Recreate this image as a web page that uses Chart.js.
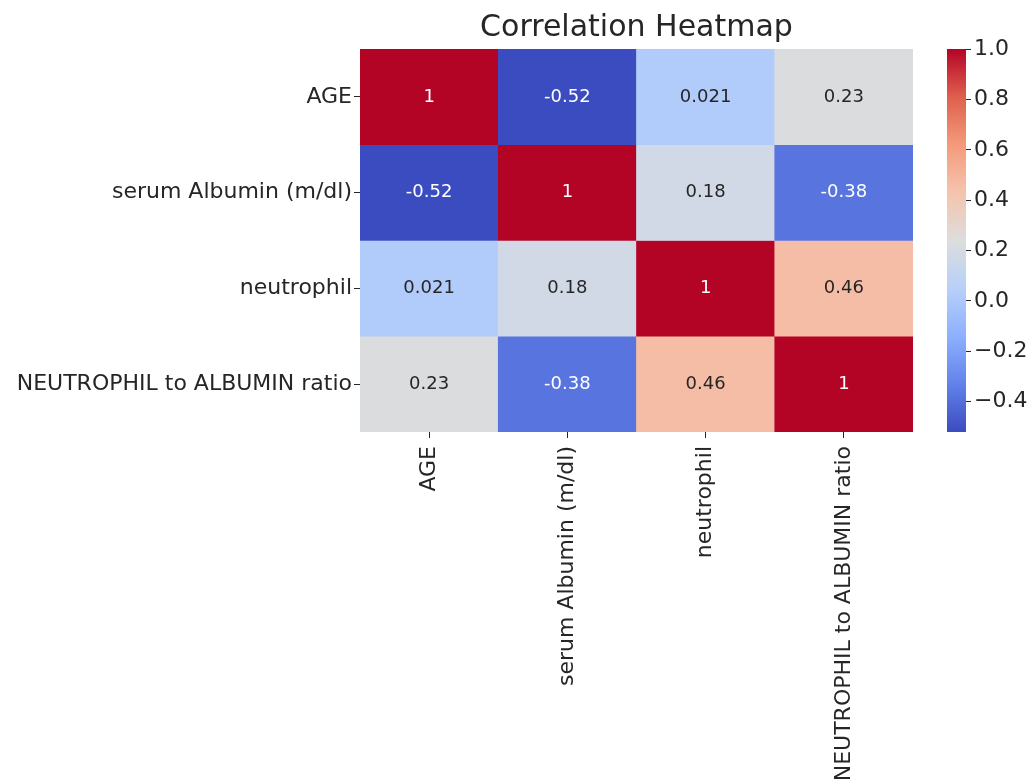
<!DOCTYPE html>
<html>
<head>
<meta charset="utf-8">
<script src="https://cdn.jsdelivr.net/npm/chart.js@4"></script>
<style>
  html, body { margin: 0; padding: 0; background: #fff; }
  .box { position: absolute; left: 0; top: 0; width: 1027px; height: 779px; }
</style>
</head>
<body>
<div class="box"><canvas id="heat"></canvas></div>
<div class="box"><canvas id="bar"></canvas></div>
<script>
// -------------------------------
// DATA
// -------------------------------
const labels = ['AGE', 'serum Albumin (m/dl)', 'neutrophil', 'NEUTROPHIL to ALBUMIN ratio'];
const rowAge = [1, -0.52, 0.021, 0.23];
const rowAlbumin = [-0.52, 1, 0.18, -0.38];
const rowNeutrophil = [0.021, 0.18, 1, 0.46];
const rowRatio = [0.23, -0.38, 0.46, 1];
const corr = [rowAge, rowAlbumin, rowNeutrophil, rowRatio];
const cbTicks = [-0.4, -0.2, 0, 0.2, 0.4, 0.6, 0.8, 1.0];

const vmin = Math.min(...corr.flat());
const vmax = Math.max(...corr.flat());

const FONT = 'DejaVu Sans';
const INK = '#262626';

// coolwarm control points
const cw = [
    [0.000, 59, 76, 192],
    [0.125, 98, 130, 234],
    [0.250, 141, 176, 254],
    [0.375, 184, 208, 249],
    [0.500, 221, 221, 221],
    [0.625, 245, 196, 173],
    [0.750, 244, 154, 123],
    [0.875, 222, 96, 77],
    [1.000, 180, 4, 38]
];

function coolwarm(t) {
    t = Math.max(0, Math.min(1, t));
    for (let i = 1; i < cw.length; i++) {
        if (t <= cw[i][0]) {
            const a = cw[i - 1], b = cw[i];
            const f = (t - a[0]) / (b[0] - a[0]);
            return [1, 2, 3].map(k => Math.round(a[k] + (b[k] - a[k]) * f));
        }
    }
    return cw[cw.length - 1].slice(1);
}
const norm = v => (v - vmin) / (vmax - vmin);
const rgb = c => `rgb(${c[0]},${c[1]},${c[2]})`;

function textColor(c) {
    const lin = c.map(x => { x /= 255; return x <= 0.03928 ? x / 12.92 : Math.pow((x + 0.055) / 1.055, 2.4); });
    const lum = 0.2126 * lin[0] + 0.7152 * lin[1] + 0.0722 * lin[2];
    return lum > 0.408 ? INK : '#ffffff';
}

// -------------------------------
// HEATMAP
// -------------------------------
const cellText = {
    id: 'cellText',
    afterDatasetsDraw(chart) {
        const c = chart.ctx;
        c.save();
        c.font = `18px "${FONT}"`;
        c.textAlign = 'center';
        c.textBaseline = 'middle';
        chart.data.datasets.forEach((ds, r) => {
            chart.getDatasetMeta(r).data.forEach((bar, j) => {
                const p = bar.getCenterPoint();
                c.fillStyle = textColor(coolwarm(norm(corr[r][j])));
                c.fillText(String(corr[r][j]), p.x, p.y);
            });
        });
        c.restore();
    }
};

new Chart(document.getElementById('heat'), {
    type: 'bar',
    data: {
        labels: labels,
        datasets: corr.map((row, r) => ({
            data: row.map(() => [r, r + 1]),
            backgroundColor: row.map(v => rgb(coolwarm(norm(v)))),
            barPercentage: 1,
            categoryPercentage: 1,
            grouped: false,
            borderWidth: 0
        }))
    },
    options: {
        responsive: true,
        maintainAspectRatio: false,
        animation: false,
        events: [],
        layout: { padding: { left: 0, right: 114, top: 0, bottom: 0 } },
        plugins: {
            legend: { display: false },
            tooltip: { enabled: false },
            title: {
                display: true,
                text: 'Correlation Heatmap',
                fullSize: false,
                color: INK,
                font: { family: FONT, size: 30, weight: 'normal' },
                padding: { top: 10, bottom: 3 }
            }
        },
        scales: {
            x: {
                grid: { display: true, drawOnChartArea: false, offset: false, tickLength: 6, color: INK },
                border: { display: false },
                ticks: {
                    color: INK,
                    font: { family: FONT, size: 22 },
                    minRotation: 90,
                    maxRotation: 90,
                    autoSkip: false,
                    padding: 8
                },
                afterFit: s => { s.height = 779 - 432; }
            },
            y: {
                type: 'linear',
                min: 0,
                max: 4,
                reverse: true,
                grid: { display: true, drawOnChartArea: false, tickLength: 6, color: INK },
                border: { display: false },
                afterBuildTicks: s => { s.ticks = labels.map((_, i) => ({ value: i + 0.5 })); },
                ticks: {
                    color: INK,
                    font: { family: FONT, size: 22 },
                    padding: 2,
                    callback: (v, i) => labels[i]
                },
                afterFit: s => { s.width = 360; }
            }
        }
    },
    plugins: [cellText]
});

// -------------------------------
// COLORBAR
// -------------------------------
function barGradient(ctx) {
    const chart = ctx.chart;
    if (!chart.chartArea) return null;
    const y = chart.scales.y;
    const g = chart.ctx.createLinearGradient(0, y.getPixelForValue(vmin), 0, y.getPixelForValue(vmax));
    cw.forEach(p => g.addColorStop(p[0], `rgb(${p[1]},${p[2]},${p[3]})`));
    return g;
}

new Chart(document.getElementById('bar'), {
    type: 'bar',
    data: {
        labels: [''],
        datasets: [{
            data: [[vmin, vmax]],
            backgroundColor: barGradient,
            barPercentage: 1,
            categoryPercentage: 1,
            borderWidth: 0
        }]
    },
    options: {
        responsive: true,
        maintainAspectRatio: false,
        animation: false,
        events: [],
        layout: { padding: { left: 947, right: 0, top: 49, bottom: 779 - 432 } },
        plugins: { legend: { display: false }, tooltip: { enabled: false } },
        scales: {
            x: { display: false },
            y: {
                position: 'right',
                min: vmin,
                max: vmax,
                grid: { display: true, drawOnChartArea: false, tickLength: 5, color: INK },
                border: { display: false },
                afterBuildTicks: s => { s.ticks = cbTicks.map(v => ({ value: v })); },
                ticks: {
                    color: INK,
                    font: { family: FONT, size: 22 },
                    padding: 3,
                    callback: v => v.toFixed(1).replace('-', '\u2212')
                },
                afterFit: s => { s.width = 1027 - 966; }
            }
        }
    }
});
</script>
</body>
</html>
